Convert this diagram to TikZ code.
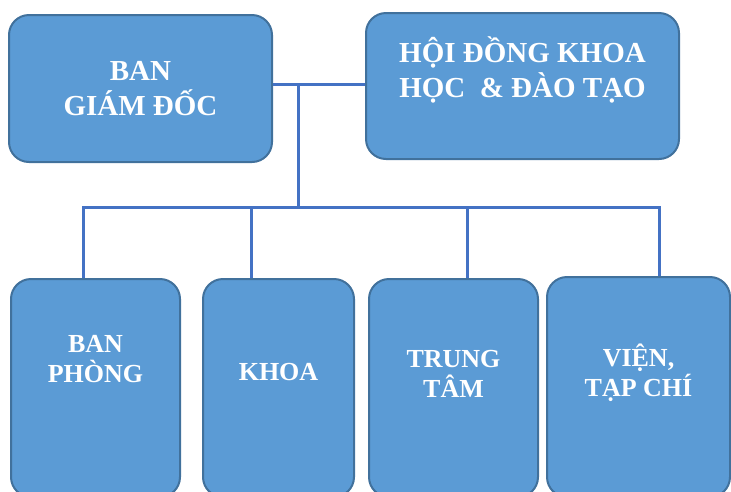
\documentclass[tikz,border=0pt]{standalone}
\usepackage{fontspec}
\setmainfont{Liberation Serif}
\definecolor{nenhop}{HTML}{5B9BD5}
\definecolor{vienhop}{HTML}{41719C}
\definecolor{duongnoi}{HTML}{4472C4}
\begin{document}
\begin{tikzpicture}[x=1pt, y=-1pt,
    donvi/.style={draw=vienhop, line width=2pt, fill=nenhop, rounded corners=20pt, inner sep=0pt},
    chulon/.style={text=white, align=center, font=\fontsize{29}{35}\selectfont\bfseries},
    chunho/.style={text=white, align=center, font=\fontsize{26}{30}\selectfont\bfseries},
    noi/.style={draw=duongnoi, line width=3pt}]
    \useasboundingbox (0,0) rectangle (731,491);
    \clip (0,0) rectangle (731,491);

    % Cap tren
    \node[donvi, chulon, minimum width=263pt, minimum height=147pt] (giamdoc) at (140.5,88.5) {BAN\\GIÁM ĐỐC};
    \node[donvi, minimum width=313pt, minimum height=146pt,
          label={[chulon, yshift=16pt]center:HỘI ĐỒNG KHOA\\HỌC \ \& ĐÀO TẠO}] (hoidong) at (522.5,86) {};

    % Cap duoi
    \node[donvi, minimum width=169pt, minimum height=218pt,
          label={[chunho, yshift=29pt]center:BAN\\PHÒNG}] (banphong) at (95.5,388) {};
    \node[donvi, minimum width=151pt, minimum height=218pt,
          label={[chunho, yshift=16pt]center:KHOA}] (khoa) at (278.5,388) {};
    \node[donvi, minimum width=169pt, minimum height=218pt,
          label={[chunho, yshift=14pt]center:TRUNG\\TÂM}] (trungtam) at (453.5,388) {};
    \node[donvi, minimum width=183pt, minimum height=220pt,
          label={[chunho, yshift=14pt]center:VIỆN,\\TẠP CHÍ}] (vien) at (638.5,387) {};

    % Duong noi
    \coordinate (nut) at (298,84);
    \coordinate (r1) at (83,207);
    \coordinate (r2) at (251,207);
    \coordinate (r3) at (467,207);
    \coordinate (r4) at (659,207);
    \draw[noi] (giamdoc.east |- nut) -- (hoidong.west |- nut);
    \draw[noi] (nut) -- (nut |- r1);
    \draw[noi] (banphong.north -| r1) -- (r1) -- (r4) -- (vien.north -| r4);
    \foreach \r/\d in {r2/khoa, r3/trungtam}
        \draw[noi] (\r) -- (\d.north -| \r);
\end{tikzpicture}
\end{document}
